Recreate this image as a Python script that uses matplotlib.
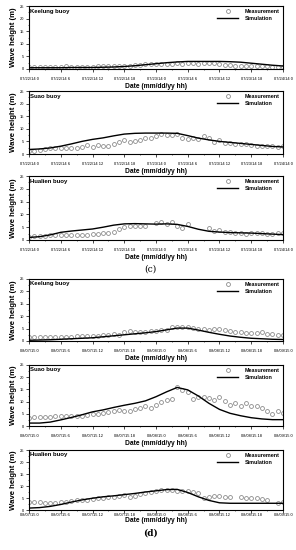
import numpy as np
import matplotlib
matplotlib.use("Agg")
import matplotlib.pyplot as plt
from matplotlib.ticker import MultipleLocator

plt.rcParams['font.family'] = ['Liberation Sans', 'DejaVu Sans']

# hourly measurements (hour 0..48), None = missing
hours = list(range(49))
sim_hours = list(range(0, 49, 2))

ticks_2014 = ["07/22/14 0", "07/22/14 6", "07/22/14 12", "07/22/14 18", "07/23/14 0",
              "07/23/14 6", "07/23/14 12", "07/23/14 18", "07/24/14 0"]
ticks_2015 = ["08/07/15 0", "08/07/15 6", "08/07/15 12", "08/07/15 18", "08/08/15 0",
              "08/08/15 6", "08/08/15 12", "08/08/15 18", "08/09/15 0"]

# (c) 2014
keelung14_meas = [0.8, 0.8, 0.9, 0.9, 0.9, 0.9, 0.9, 1.0, 0.9, 0.9, 0.9, 0.9, 0.9, 1.0, 1.0, 1.0, 1.1, 1.0,
                  1.2, 1.3, 1.5, 1.5, 1.8, 2.0, 1.8, 1.8, 1.8, 2.0, 2.2, 2.0, 2.2, 2.3, 2.0, 2.3, 2.3, 2.2,
                  1.8, 1.7, 1.5, 1.2, 1.0, 1.0, 1.3, 1.2, 1.2, 1.0, 0.8, 0.8, 0.9]
keelung14_sim = [0.5, 0.5, 0.5, 0.5, 0.6, 0.6, 0.6, 0.7, 0.8, 1.0, 1.3, 1.7, 2.1, 2.5, 2.8, 3.0, 3.0,
                 3.0, 3.0, 2.9, 2.7, 2.3, 1.9, 1.5, 1.2]

suao14_meas = [1.2, 1.3, 1.5, 2.0, 2.5, 2.3, 2.3, 2.5, 2.2, 2.5, 2.8, 3.5, 2.8, 3.5, 3.2, 3.0, 3.8, 4.8,
               5.5, 4.8, 5.3, 5.5, 6.3, 6.3, 7.0, 8.0, 7.5, 7.5, 8.0, 6.5, 6.0, 6.5, 6.0, 7.0, 6.3, 4.8,
               5.5, 4.5, 4.3, 3.8, 3.8, 3.8, 3.5, 3.3, 3.2, 3.0, 3.0, 2.8, 3.2]
suao14_sim = [1.8, 2.0, 2.4, 3.1, 4.0, 5.0, 5.8, 6.4, 7.2, 7.9, 8.2, 8.3, 8.3, 8.3, 8.2, 7.3, 6.3,
              5.6, 5.0, 4.6, 4.2, 3.8, 3.4, 3.0, 2.8]

hualien14_meas = [1.2, 1.5, 1.5, 1.6, 1.8, 2.0, 2.0, 2.0, 2.0, 2.0, 2.0, 2.1, 2.2, 2.4, 2.6, 2.8, 3.3, 4.3,
                  5.0, 5.5, 5.5, 5.5, 5.3, None, 6.8, 7.2, 6.3, 7.2, 5.3, 4.6, 6.2, None, None, None,
                  4.5, 3.5, 3.8, 3.3, 3.0, 2.8, 2.7, 2.5, 2.7, 2.7, 2.7, 2.5, 2.5, 2.6, 2.9]
hualien14_sim = [1.0, 1.3, 2.0, 3.0, 3.5, 3.9, 4.3, 5.0, 5.8, 6.3, 6.4, 6.3, 6.2, 6.3, 6.1, 5.3, 4.2,
                 3.4, 3.1, 2.9, 2.8, 2.7, 2.5, 2.3, 2.1]

# (d) 2015
keelung15_meas = [1.5, 1.5, 1.5, 1.5, 1.6, 1.7, 1.7, 1.8, 1.8, 1.9, 2.0, 2.0, 2.0, 2.2, 2.5, 2.5, 2.8, 2.5,
                  3.5, 4.0, 3.8, 3.5, 3.8, 4.2, 4.0, 4.5, 4.5, 5.5, 5.5, 5.8, 5.5, 5.3, 5.0, 4.8, 4.5, 4.8,
                  5.0, 4.5, 4.0, 3.8, 3.5, 3.3, 3.3, 3.3, 3.5, 3.0, 2.8, 2.5, 2.3]
keelung15_sim = [0.3, 0.4, 0.5, 0.7, 0.9, 1.1, 1.3, 1.7, 2.1, 2.5, 2.9, 3.3, 3.8, 4.5, 5.2, 5.2, 4.4,
                 3.5, 2.7, 2.0, 1.5, 1.1, 0.9, 0.7, 0.6]

suao15_meas = [3.3, 3.5, 3.5, 3.8, 3.5, 4.3, 4.3, 4.0, 4.0, 4.3, 4.0, 4.5, 4.8, 5.0, 5.3, 5.8, 6.3, 6.5,
               6.3, 6.0, 7.0, 7.5, 8.0, 7.5, 8.8, 10.0, 10.5, 11.2, 16.0, 14.8, 13.8, 11.0, 12.0, 12.0,
               11.5, 10.5, 11.8, 10.3, 8.5, 9.3, 8.0, 9.5, 8.0, 8.0, 7.5, 6.0, 4.8, 6.0, 5.5]
suao15_sim = [1.2, 1.2, 1.6, 2.5, 3.5, 4.6, 5.8, 6.6, 7.6, 8.5, 9.3, 10.3, 12.0, 14.0, 15.8, 14.8, 12.3,
              9.3, 6.8, 5.2, 4.2, 3.4, 2.9, 2.6, 2.6]

hualien15_meas = [3.5, 3.5, 3.3, 3.0, 3.0, 3.0, 3.3, 3.5, 3.8, 4.0, 4.3, 4.3, 4.5, 4.8, 5.0, 5.3, 5.5, 5.8,
                  6.3, 5.5, 6.0, 6.5, 7.0, 7.5, 8.0, 8.5, 8.5, 8.3, 8.0, 8.0, 7.8, 7.5, 7.0, 5.0, 5.3, 6.0,
                  5.8, 5.5, 5.3, None, 5.5, 5.0, 5.0, 5.0, 4.5, 4.3, None, 3.0, 3.3]
hualien15_sim = [0.8, 1.0, 1.5, 2.3, 3.3, 4.2, 4.9, 5.5, 5.9, 6.4, 6.9, 7.5, 8.0, 8.5, 8.6, 7.3, 5.5,
                 4.0, 3.0, 2.8, 2.8, 2.8, 2.8, 2.8, 2.8]

panels = [
    ("Keelung buoy", keelung14_meas, keelung14_sim, ticks_2014),
    ("Suao buoy", suao14_meas, suao14_sim, ticks_2014),
    ("Hualien buoy", hualien14_meas, hualien14_sim, ticks_2014),
    ("Keelung buoy", keelung15_meas, keelung15_sim, ticks_2015),
    ("Suao buoy", suao15_meas, suao15_sim, ticks_2015),
    ("Hualien buoy", hualien15_meas, hualien15_sim, ticks_2015),
]

W, H = 296, 550
fig = plt.figure(figsize=(W / 100, H / 100), dpi=100)

# (top, bottom, tick pad, xlabel pad) of each axes, pixels from top
boxes = [(6, 69, 4, 1), (91, 154, 4, 1), (176, 240, 4, 1),
         (279, 341, 4, 1), (365, 426, 4, 1), (450, 510, 0.5, 0)]
left, right = 29, 283

for (name, meas, sim, tlabels), (top, bot, tpad, lpad) in zip(panels, boxes):
    ax = fig.add_axes([left / W, 1 - bot / H, (right - left) / W, (bot - top) / H])
    m = np.array([np.nan if v is None else v for v in meas], dtype=float)
    ax.plot(hours, m, 'o', ms=2.8, mfc='none', mec='#8c8c8c', mew=0.6, label="Measurement")
    ax.plot(sim_hours, sim, '-', color='black', lw=1.0, label="Simulation")
    ax.set_xlim(0, 48)
    ax.set_ylim(0, 25)
    ax.set_xticks(range(0, 49, 6))
    ax.set_xticklabels(tlabels)
    ax.set_yticks(range(0, 26, 5))
    ax.yaxis.set_minor_locator(MultipleLocator(2.5))
    ax.xaxis.set_minor_locator(MultipleLocator(3))
    ax.tick_params(axis='both', which='major', labelsize=2.9, length=2, width=0.5, direction='out')
    ax.tick_params(axis='x', which='major', pad=tpad)
    ax.tick_params(axis='y', which='major', pad=1.5)
    ax.tick_params(axis='both', which='minor', length=1, width=0.4, direction='out')
    for s in ax.spines.values():
        s.set_linewidth(0.8)
    ax.text(0.005, 0.96, name, transform=ax.transAxes, ha='left', va='top',
            fontsize=4.3, fontweight='bold')
    ax.set_ylabel("Wave height (m)", fontsize=5.6, fontweight='bold', labelpad=2)
    ax.set_xlabel("Date (mm/dd/yy hh)", fontsize=4.8, fontweight='bold', labelpad=lpad)
    ax.legend(loc='upper right', frameon=False, handlelength=4,
              borderaxespad=0.2, labelspacing=0.35, handletextpad=1.2,
              prop={'weight': 'bold', 'size': 3.9})

fig.text(150 / W, 1 - 269 / H, "(c)", ha='center', va='center', fontsize=6.5, family='DejaVu Serif')
fig.text(150 / W, 1 - 533 / H, "(d)", ha='center', va='center', fontsize=6.5, family='DejaVu Serif', fontweight='bold')

fig.savefig("out.png", dpi=100)
